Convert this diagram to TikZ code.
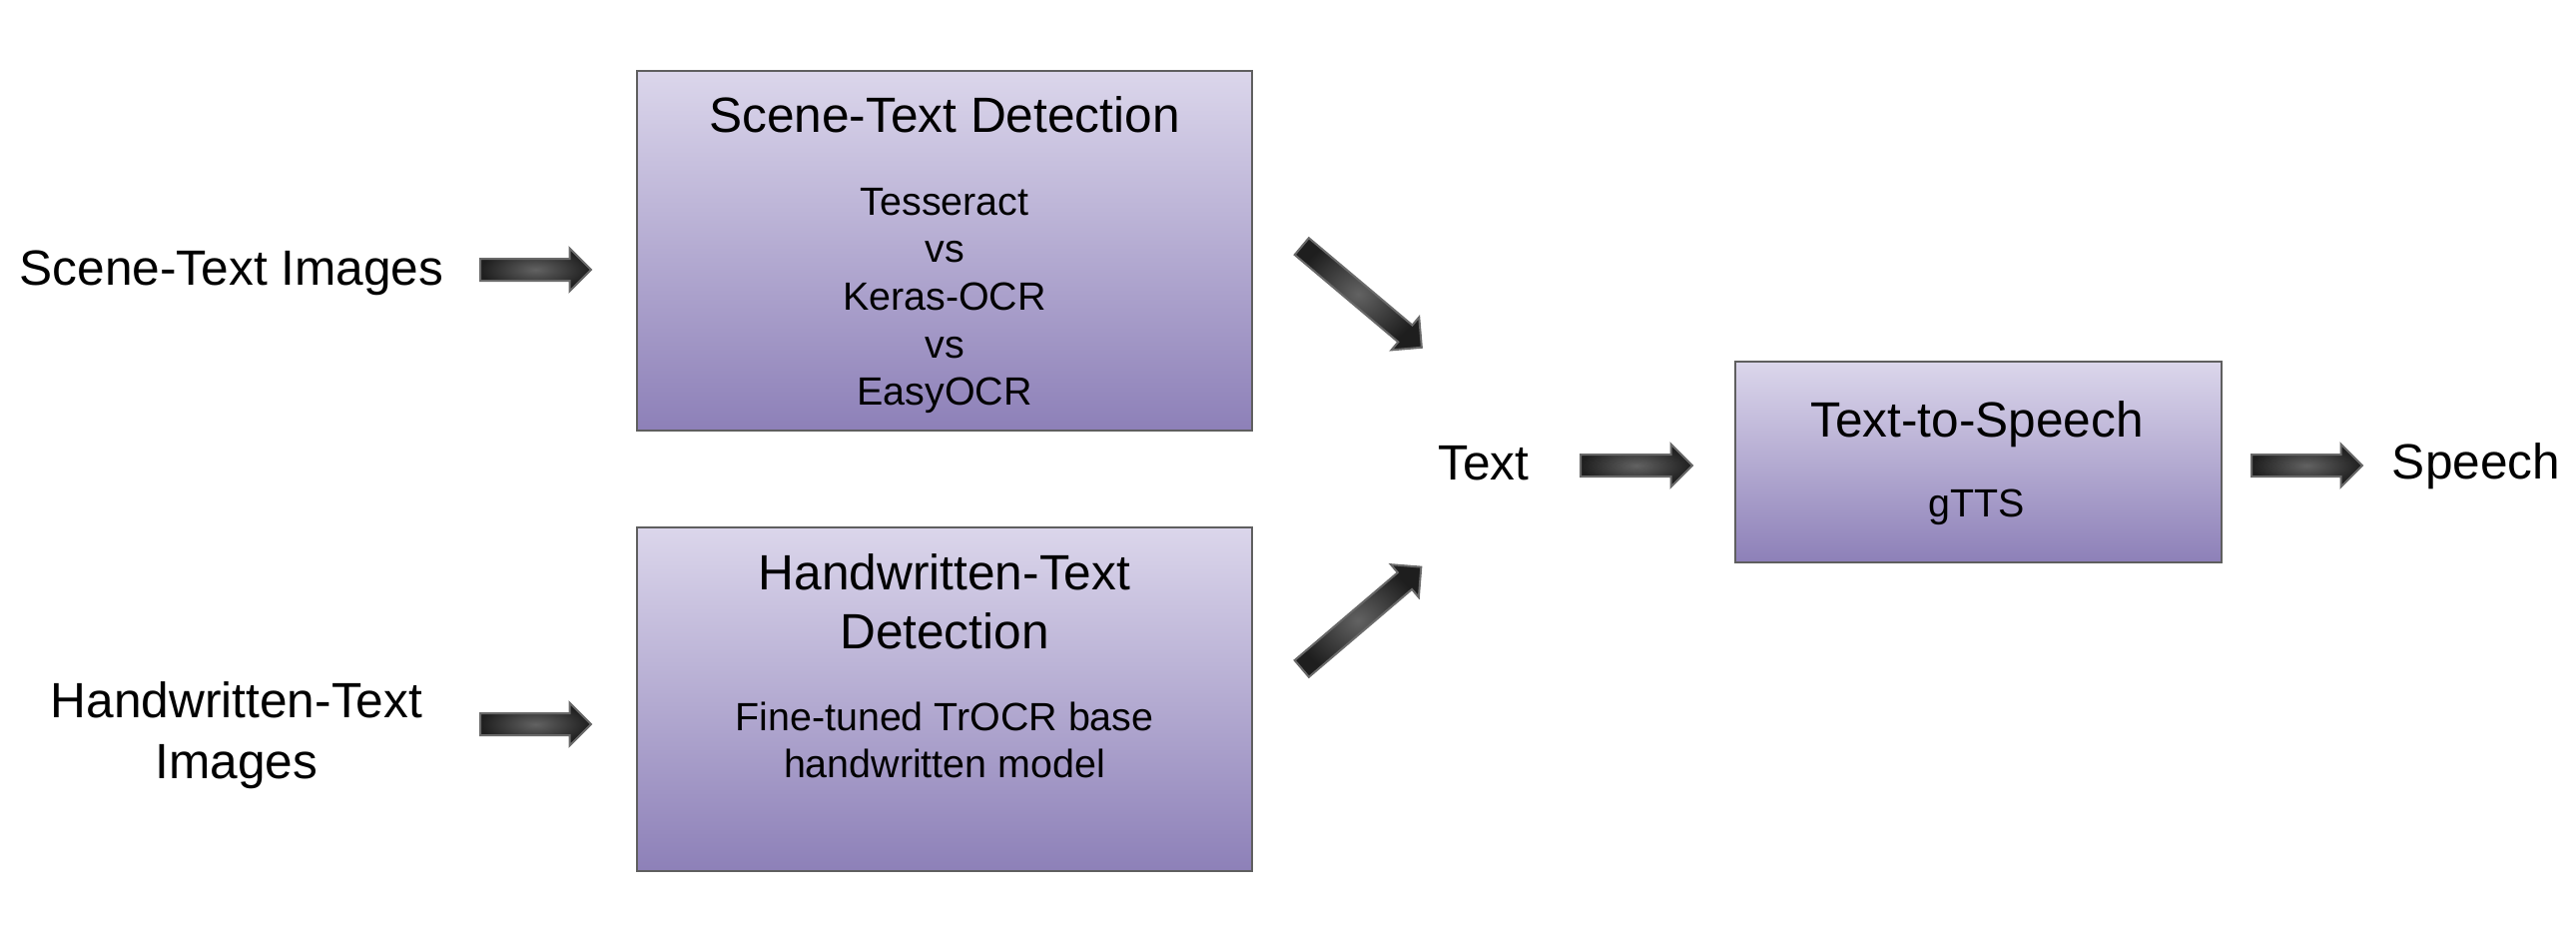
\documentclass[tikz,border=0pt]{standalone}
\usepackage{fontspec}
\setmainfont{Liberation Sans}
\usetikzlibrary{shapes.arrows}
\definecolor{boxtop}{RGB}{219,214,235}
\definecolor{boxbot}{RGB}{141,128,184}
\definecolor{boxline}{RGB}{95,95,95}
\definecolor{arrline}{RGB}{105,105,105}
\definecolor{arrin}{RGB}{98,98,98}
\definecolor{arrout}{RGB}{30,30,30}
\begin{document}
\begin{tikzpicture}[x=0.5pt,y=-0.5pt,
  box/.style={rectangle, draw=boxline, line width=1pt, top color=boxtop, bottom color=boxbot, inner sep=0pt},
  big/.style={font=\fontsize{24.8pt}{29.5pt}\selectfont, align=center, inner sep=0pt},
  small/.style={font=\fontsize{19.7pt}{23.8pt}\selectfont, align=center, inner sep=0pt},
  blockarrow/.style={single arrow, draw=arrline, line width=1pt, shading=radial, inner color=arrin, outer color=arrout, inner xsep=0pt, inner ysep=5pt, single arrow head extend=5.25pt, single arrow tip angle=90, minimum width=0pt, anchor=tail},
]
\useasboundingbox (0,0) rectangle (2580,944);

% boxes
\node[box, minimum width=308pt, minimum height=180pt] (b1) at (946,251) {};
\node[box, minimum width=308pt, minimum height=172pt] (b2) at (946,700) {};
\node[box, minimum width=243.5pt, minimum height=100.5pt] (b3) at (1981.5,462.5) {};

% box texts
\node[big] (t1) at (946,115) {Scene-Text Detection};
\node[small] (s1) at (946,301) {Tesseract\\vs\\Keras-OCR\\vs\\EasyOCR};
\node[big] (t2) at (946,602.5) {Handwritten-Text\\Detection};
\node[small] (s2) at (946,741) {Fine-tuned TrOCR base\\handwritten model};
\node[big] (t3) at (1980,425) {Text-to-Speech};
\node[small] (s3) at (1980,508) {gTTS};

% outer labels
\node[big] (in1) at (232,273) {Scene-Text Images};
\node[big, font=\fontsize{24.8pt}{30.5pt}\selectfont] (in2) at (237,736) {Handwritten-Text\\Images};
\node[big] (txt) at (1486,464) {Text};
\node[big] (sp) at (2480,467) {Speech};

% block arrows
\node[blockarrow, minimum height=55.5pt] (a1) at (480,270) {};
\node[blockarrow, minimum height=55.5pt] (a2) at (480,725) {};
\node[blockarrow, minimum height=78.5pt, rotate=-40.1] (a3) at (1303,246) {};
\node[blockarrow, minimum height=78.5pt, rotate=40.4] (a4) at (1303,670) {};
\node[blockarrow, minimum height=56pt] (a5) at (1582,466) {};
\node[blockarrow, minimum height=55.5pt] (a6) at (2254,466) {};
\end{tikzpicture}
\end{document}
